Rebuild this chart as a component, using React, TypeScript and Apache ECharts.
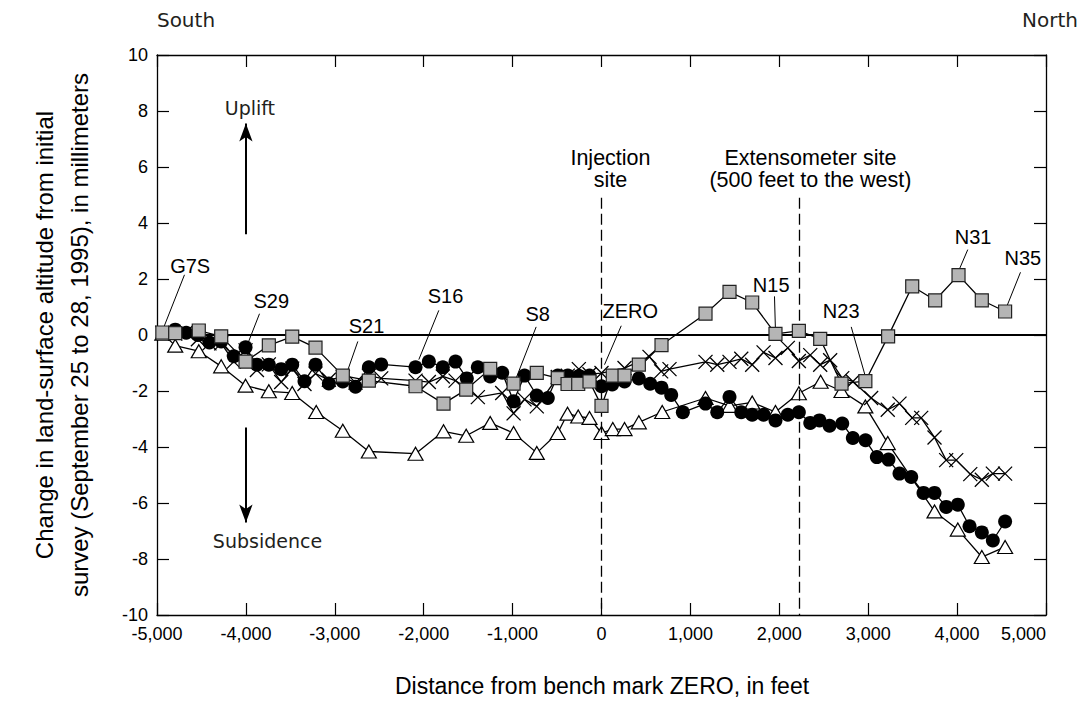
import React, { useEffect, useRef } from "react";
import * as echarts from "echarts";

// ---- Data (distance from bench mark ZERO in feet, change in mm) ----
const squareX = [-4940, -4795, -4530, -4278, -4004, -3742, -3479, -3217, -2910, -2617, -2092, -1777, -1522, -1252, -989, -728, -492, -382, -262, -135, 0, 127, 259, 420, 675, 1170, 1440, 1695, 1957, 2220, 2460, 2700, 2968, 3224, 3495, 3753, 4016, 4278, 4540];
const squareY = [0.09, 0.07, 0.16, -0.05, -0.95, -0.37, -0.06, -0.45, -1.45, -1.63, -1.83, -2.45, -1.95, -1.21, -1.74, -1.35, -1.54, -1.75, -1.75, -1.66, -2.53, -1.45, -1.45, -1.06, -0.36, 0.76, 1.54, 1.16, 0.04, 0.15, -0.14, -1.74, -1.65, -0.05, 1.74, 1.24, 2.14, 1.24, 0.84];

const circleX = [-4795, -4672, -4540, -4410, -4278, -4136, -4004, -3876, -3742, -3603, -3479, -3341, -3217, -3067, -2910, -2767, -2617, -2478, -2092, -1942, -1785, -1642, -1515, -1391, -1252, -1117, -989, -866, -728, -604, -492, -379, -255, -135, 0, 120, 259, 420, 548, 675, 784, 915, 1170, 1302, 1440, 1572, 1695, 1823, 1957, 2096, 2220, 2348, 2452, 2565, 2708, 2827, 2970, 3097, 3228, 3352, 3484, 3622, 3746, 3877, 4008, 4140, 4278, 4402, 4540];
const circleY = [0.19, 0.08, 0.0, -0.27, -0.23, -0.76, -0.44, -1.06, -1.06, -1.22, -1.06, -1.65, -1.06, -1.73, -1.66, -1.85, -1.15, -1.05, -1.15, -0.95, -1.15, -0.95, -1.55, -1.15, -1.48, -1.35, -2.37, -1.45, -2.16, -2.25, -1.45, -1.45, -1.47, -1.45, -1.83, -1.77, -1.66, -1.55, -1.74, -1.88, -2.14, -2.76, -2.45, -2.76, -2.21, -2.76, -2.85, -2.85, -3.05, -2.85, -2.76, -3.14, -3.05, -3.24, -3.16, -3.68, -3.76, -4.36, -4.45, -4.95, -5.07, -5.64, -5.64, -6.14, -6.06, -6.83, -7.05, -7.34, -6.66];

const triangleX = [-4940, -4795, -4530, -4278, -4004, -3742, -3479, -3209, -2910, -2617, -2092, -1777, -1522, -1252, -989, -728, -492, -382, -262, -135, 0, 127, 259, 420, 683, 1170, 1440, 1695, 1957, 2220, 2465, 2700, 2968, 3220, 3746, 4008, 4278, 4540];
const triangleY = [0.05, -0.38, -0.58, -1.12, -1.81, -2.01, -2.07, -2.75, -3.42, -4.16, -4.24, -3.44, -3.6, -3.14, -3.5, -4.21, -3.5, -2.81, -2.91, -2.96, -3.5, -3.36, -3.36, -3.12, -2.75, -2.25, -2.53, -2.41, -2.75, -2.08, -1.67, -2.0, -2.55, -3.86, -6.3, -6.95, -7.93, -7.57];

const crossX = [-4940, -4795, -4672, -4540, -4410, -4278, -4136, -4004, -3876, -3742, -3603, -3479, -3341, -3217, -3067, -2910, -2767, -2617, -2478, -2092, -1942, -1785, -1642, -1391, -1117, -989, -866, -728, -492, -379, -255, -135, 0, 259, 540, 671, 765, 1170, 1302, 1440, 1572, 1695, 1823, 1957, 2096, 2220, 2348, 2460, 2572, 2708, 2827, 3033, 3220, 3352, 3495, 3596, 3746, 3877, 3990, 4148, 4278, 4402, 4540];
const crossY = [0.08, 0.05, 0.1, -0.15, -0.3, -0.3, -0.95, -0.55, -1.25, -1.05, -1.68, -1.2, -1.75, -1.38, -1.6, -1.5, -1.7, -1.45, -1.55, -1.63, -1.68, -1.48, -1.63, -2.22, -2.07, -2.8, -2.3, -2.55, -1.5, -1.45, -1.22, -1.4, -1.36, -1.18, -0.78, -1.3, -1.22, -0.96, -1.06, -0.96, -0.85, -1.06, -0.62, -0.82, -0.46, -0.93, -0.72, -1.06, -0.9, -1.54, -1.66, -2.25, -2.67, -2.45, -2.96, -2.96, -3.66, -4.47, -4.47, -4.97, -5.17, -4.95, -4.95];

// Bench-mark labels: text position and leader line (data units)
const benchLabels = ["G7S", "S29", "S21", "S16", "S8", "ZERO", "N15", "N23", "N31", "N35"];
const benchLabelPos = [[-4627, 2.47], [-3715, 1.2], [-2643, 0.33], [-1755, 1.4], [-717, 0.76], [323, 0.87], [1909, 1.8], [2696, 0.84], [4180, 3.5], [4739, 2.75]];
const leaderFrom = [[-4691, 2.15], [-3847, 0.76], [-2741, -0.23], [-1830, 0.88], [-735, 0.29], [222, 0.33], [1946, 1.38], [2809, 0.29], [4120, 3.05], [4713, 2.24]];
const leaderTo = [[-4927, 0.25], [-3979, -0.31], [-2872, -1.42], [-2055, -0.88], [-960, -1.54], [34, -1.06], [1957, 0.13], [2970, -1.5], [4027, 2.36], [4559, 1.02]];

const siteLines = [0, 2225];
const siteLineTop = 4.9;
const siteLabels = ["Injection\nsite", "Extensometer site\n(500 feet to the west)"];
const siteLabelPos = [[101, 5.94], [2350, 5.94]];

const FONT_N = "'Liberation Sans Narrow', 'Liberation Sans', Arial, sans-serif";
const FONT_W = "'DejaVu Sans', 'Liberation Sans', sans-serif";

const zip = (xs: number[], ys: number[]) => xs.map((x, i) => [x, ys[i]]);

export default function App() {
  const ref = useRef<HTMLDivElement>(null);
  useEffect(() => {
    if (!ref.current) return;
    const chart = echarts.init(ref.current, undefined, { renderer: "svg" });
    const axisLine = { show: true, onZero: false, lineStyle: { color: "#000", width: 1.3 } };
    const axisTick = { show: true, inside: true, length: 12, lineStyle: { color: "#000", width: 1.2 } };
    const lineStyle = { color: "#000", width: 1.3 };
    const labelFont = { fontFamily: FONT_N, fontSize: 20, color: "#000" };
    const wideLabel = { fontFamily: FONT_W, fontSize: 19, color: "#231f20" };

    const option: any = {
      animation: false,
      backgroundColor: "#fff",
      grid: { left: 157, right: 34, top: 55, bottom: 89 },
      xAxis: [
        {
          type: "value", position: "bottom", min: -5000, max: 5000, interval: 1000,
          axisLine, axisTick, splitLine: { show: false },
          axisLabel: {
            color: "#000", fontFamily: FONT_N, fontSize: 18, margin: 10, alignMaxLabel: "right",
            formatter: (v: number) => v.toLocaleString("en-US"),
          },
        },
        {
          type: "value", position: "top", min: -5000, max: 5000, interval: 1000,
          axisLine, axisTick, splitLine: { show: false }, axisLabel: { show: false },
        },
      ],
      yAxis: [
        {
          type: "value", position: "left", min: -10, max: 10, interval: 2,
          axisLine, axisTick, splitLine: { show: false },
          axisLabel: { color: "#000", fontFamily: FONT_N, fontSize: 18, margin: 9 },
        },
        {
          type: "value", position: "right", min: -10, max: 10, interval: 2,
          axisLine, axisTick, splitLine: { show: false }, axisLabel: { show: false },
        },
      ],
      series: [
        {
          type: "line", name: "annotations", data: [], z: 1, silent: true,
          markLine: {
            silent: true, symbol: ["none", "none"], label: { show: false }, animation: false,
            data: [
              { yAxis: 0, lineStyle: { color: "#000", width: 2, type: "solid" } },
              ...siteLines.map((x) => [
                { coord: [x, siteLineTop], lineStyle: { color: "#000", width: 1.3, type: [11, 5] } },
                { coord: [x, -10] },
              ]),
              ...leaderFrom.map((p, i) => [
                { coord: p, lineStyle: { color: "#000", width: 1, type: "solid" } },
                { coord: leaderTo[i] },
              ]),
              [
                { coord: [-4000, 3.6], symbol: "none", lineStyle: { color: "#000", width: 2, type: "solid" } },
                { coord: [-4000, 7.55], symbol: "arrow", symbolSize: [10, 18] },
              ],
              [
                { coord: [-4000, -3.3], symbol: "none", lineStyle: { color: "#000", width: 2, type: "solid" } },
                { coord: [-4000, -6.7], symbol: "arrow", symbolSize: [10, 18] },
              ],
            ],
          },
          markPoint: {
            silent: true, symbol: "circle", symbolSize: 1, itemStyle: { color: "transparent" },
            data: [
              ...benchLabels.map((t, i) => ({
                name: t, coord: benchLabelPos[i],
                label: { show: true, position: "inside", formatter: t, ...labelFont },
              })),
              ...siteLabels.map((t, i) => ({
                name: t, coord: siteLabelPos[i],
                label: { show: true, position: "inside", formatter: t, ...labelFont, fontSize: 21.5, lineHeight: 22, align: "center" },
              })),
              {
                name: "Uplift", coord: [-3955, 8.12],
                label: { show: true, position: "inside", formatter: "Uplift", ...wideLabel },
              },
              {
                name: "Subsidence", coord: [-3757, -7.35],
                label: { show: true, position: "inside", formatter: "Subsidence", ...wideLabel },
              },
            ],
          },
        },
        {
          type: "line", name: "triangles", data: zip(triangleX, triangleY), z: 3,
          symbol: "triangle", symbolSize: [15, 13], showSymbol: true, showAllSymbol: true,
          itemStyle: { color: "#fff", borderColor: "#000", borderWidth: 1.2 }, lineStyle,
        },
        {
          type: "line", name: "crosses", data: zip(crossX, crossY), z: 4,
          symbol: "path://M0,0L10,10M10,0L0,10", symbolSize: 14, showSymbol: true, showAllSymbol: true,
          itemStyle: { color: "none", borderColor: "#000", borderWidth: 1.3 }, lineStyle,
        },
        {
          type: "line", name: "circles", data: zip(circleX, circleY), z: 5,
          symbol: "circle", symbolSize: 14, showSymbol: true, showAllSymbol: true,
          itemStyle: { color: "#000" }, lineStyle,
        },
        {
          type: "line", name: "squares", data: zip(squareX, squareY), z: 6,
          symbol: "rect", symbolSize: 13, showSymbol: true, showAllSymbol: true,
          itemStyle: { color: "#b5b5b5", borderColor: "#222", borderWidth: 1.2 }, lineStyle,
        },
      ],
      graphic: [
        { type: "text", x: 186, y: 20, style: { text: "South", font: `20px ${FONT_W}`, fill: "#231f20", align: "center", verticalAlign: "middle" } },
        { type: "text", x: 1050, y: 20, style: { text: "North", font: `20px ${FONT_W}`, fill: "#231f20", align: "center", verticalAlign: "middle" } },
        {
          type: "text", x: 62, y: 335, rotation: Math.PI / 2,
          style: {
            text: "Change in land-surface altitude from initial\nsurvey (September 25 to 28, 1995), in millimeters",
            font: `24px ${FONT_N}`, lineHeight: 35, fill: "#000", align: "center", verticalAlign: "middle",
          },
        },
        {
          type: "text", x: 602, y: 686,
          style: { text: "Distance from bench mark ZERO, in feet", font: `23px ${FONT_N}`, fill: "#000", align: "center", verticalAlign: "middle" },
        },
      ],
    };
    chart.setOption(option);
    return () => chart.dispose();
  }, []);
  return <div ref={ref} style={{ position: "absolute", left: 0, top: 0, width: 1080, height: 704 }} />;
}
